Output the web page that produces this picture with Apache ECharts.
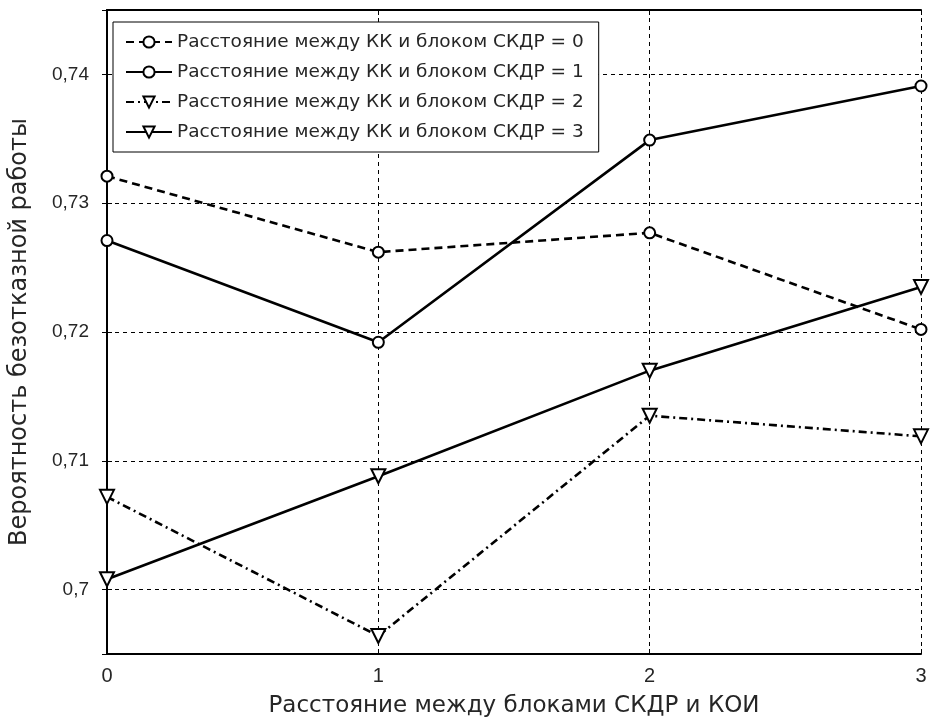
<!DOCTYPE html>
<html>
<head>
<meta charset="utf-8">
<script src="https://cdn.jsdelivr.net/npm/echarts@6/dist/echarts.min.js"></script>
<style>
html,body{margin:0;padding:0;background:#fff;}
#c{width:931px;height:724px;}
</style>
</head>
<body>
<div id="c"></div>
<script>
const xValues = [0, 1, 2, 3];
const seriesNames = [
  'Расстояние между КК и блоком СКДР = 0',
  'Расстояние между КК и блоком СКДР = 1',
  'Расстояние между КК и блоком СКДР = 2',
  'Расстояние между КК и блоком СКДР = 3'
];
const dist0 = [0.7321, 0.7262, 0.7277, 0.7202];
const dist1 = [0.7271, 0.7192, 0.7349, 0.7391];
const dist2 = [0.7072, 0.6964, 0.7135, 0.7119];
const dist3 = [0.7008, 0.7088, 0.7170, 0.7235];
const xTitle = 'Расстояние между блоками СКДР и КОИ';
const yTitle = 'Вероятность безотказной работы';

const FONT = 'Liberation Sans, Arial, sans-serif';
const WFONT = 'DejaVu Sans, Liberation Sans, sans-serif';
const TXT = '#262626';

function pairs(arr){ return arr.map((v,i)=>[xValues[i], v]); }
function fmtY(v){ return String(+(+v).toFixed(3)).replace('.', ','); }

const chart = echarts.init(document.getElementById('c'), null, {renderer:'canvas'});

const gridLine = {show:true, lineStyle:{color:'#000', width:1, type:[4,4]}};
const axisLineS = {show:true, lineStyle:{color:'#000', width:2}};
const tickS = {show:true, inside:true, length:5, lineStyle:{color:'#000', width:1}};

function mk(name, data, dash, symbol, size){
  return {
    name: name, type:'line', data: pairs(data),
    clip:false,
    symbol: symbol, symbolSize: size,
    symbolRotate: symbol === 'emptyTriangle' ? 180 : 0,
    showAllSymbol:true,
    lineStyle:{color:'#000', width:2.6, type: dash},
    itemStyle:{color:'#000', borderColor:'#000', borderWidth:1.8},
    emphasis:{disabled:true},
    z:5
  };
}

chart.setOption({
  animation:false,
  backgroundColor:'#fff',
  grid:{left:105, right:10, top:10, bottom:70, containLabel:false},
  legend:{
    orient:'vertical', left:113, top:22,
    padding:[10,15,10,12],
    itemGap:10, itemWidth:46, itemHeight:14,
    backgroundColor:'#fff', borderColor:'#000', borderWidth:1,
    textStyle:{fontFamily:WFONT, fontSize:18.5, color:TXT, lineHeight:20},
    data: seriesNames,
    selectedMode:false
  },
  xAxis:[{
    type:'value', min:0, max:3, interval:1, position:'bottom',
    name: xTitle, nameLocation:'middle', nameGap:41,
    nameTextStyle:{fontFamily:WFONT, fontSize:23, color:TXT},
    axisLine:axisLineS, axisTick:tickS, splitLine:gridLine,
    axisLabel:{fontFamily:FONT, fontSize:20, color:TXT, margin:12}
  },{
    type:'value', min:0, max:3, interval:1, position:'top',
    axisLine:axisLineS, axisTick:tickS, splitLine:{show:false},
    axisLabel:{show:false}
  }],
  yAxis:[{
    type:'value', min:0.695, max:0.745, splitNumber:5, position:'left',
    name: yTitle, nameLocation:'middle', nameGap:75,
    nameTextStyle:{fontFamily:WFONT, fontSize:24, color:TXT},
    axisLine:axisLineS, axisTick:tickS, splitLine:gridLine,
    axisLabel:{fontFamily:FONT, fontSize:19, color:TXT, margin:18,
      showMinLabel:false, showMaxLabel:false, formatter:fmtY}
  },{
    type:'value', min:0.695, max:0.745, splitNumber:5, position:'right',
    axisLine:axisLineS, axisTick:tickS, splitLine:{show:false},
    axisLabel:{show:false}
  }],
  series:[
    mk(seriesNames[0], dist0, [8,5], 'emptyCircle', 11),
    mk(seriesNames[1], dist1, 'solid', 'emptyCircle', 11),
    mk(seriesNames[2], dist2, [8,4,2,4], 'emptyTriangle', 14),
    mk(seriesNames[3], dist3, 'solid', 'emptyTriangle', 14)
  ]
});
</script>
</body>
</html>
